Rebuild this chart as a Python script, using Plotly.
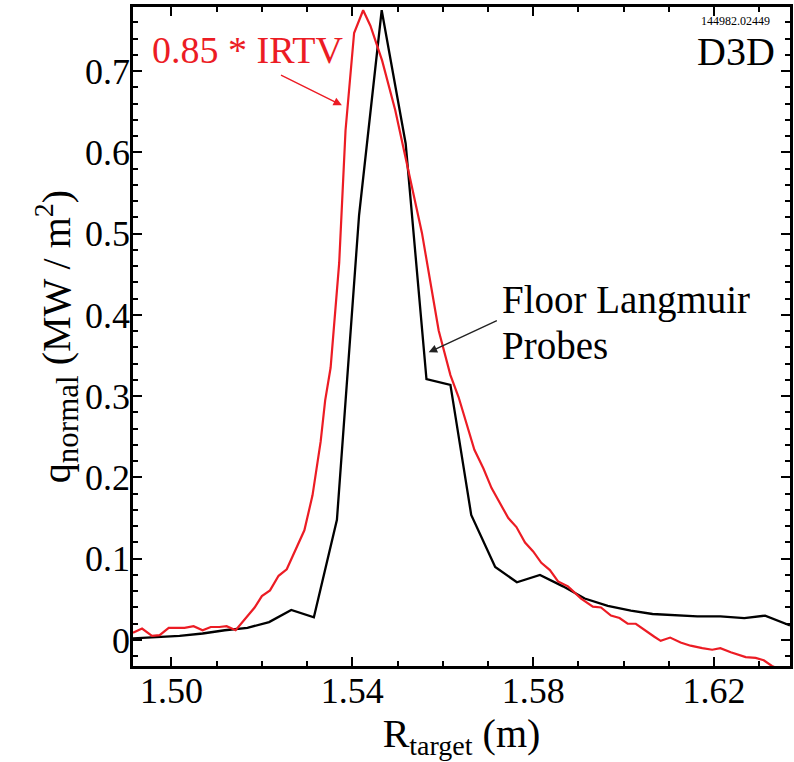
import plotly.graph_objects as go

# Floor Langmuir probes (black)
lp_r = [1.4915, 1.5018, 1.5069, 1.5118, 1.5168, 1.5216, 1.5265, 1.5315, 1.5366, 1.5415,
        1.5465, 1.5518, 1.5564, 1.5617, 1.5663, 1.5716, 1.5764, 1.5815, 1.5866, 1.5914,
        1.5965, 1.6016, 1.6064, 1.6115, 1.6163, 1.6214, 1.6267, 1.6313, 1.6368]
lp_q = [0.002, 0.005, 0.008, 0.012, 0.015, 0.022, 0.037, 0.028, 0.148, 0.523,
        0.775, 0.611, 0.321, 0.314, 0.154, 0.090, 0.071, 0.080, 0.066, 0.051,
        0.042, 0.036, 0.032, 0.030, 0.029, 0.029, 0.027, 0.030, 0.018]

# 0.85 * IRTV (red)
ir_r = [1.4915, 1.4935, 1.4957, 1.4974, 1.4994, 1.5029, 1.5049, 1.5069, 1.5087, 1.5106,
        1.5122, 1.5142, 1.5184, 1.5200, 1.5218, 1.5237, 1.5255, 1.5275, 1.5294, 1.5312,
        1.5330, 1.5340, 1.5352, 1.5371, 1.5385, 1.5404, 1.5424, 1.5440, 1.5466, 1.5495,
        1.5521, 1.5554, 1.5591, 1.5617, 1.5635, 1.5670, 1.5690, 1.5708, 1.5745, 1.5763,
        1.5782, 1.5800, 1.5818, 1.5837, 1.5855, 1.5877, 1.5906, 1.5932, 1.5950, 1.5972,
        1.5991, 1.6009, 1.6027, 1.6049, 1.6068, 1.6082, 1.6103, 1.6126, 1.6148, 1.6174,
        1.6196, 1.6214, 1.6237, 1.6270, 1.6292, 1.6310, 1.6328, 1.6345, 1.6370]
ir_q = [0.009, 0.014, 0.005, 0.006, 0.015, 0.015, 0.017, 0.012, 0.016, 0.016,
        0.017, 0.012, 0.040, 0.054, 0.061, 0.079, 0.087, 0.111, 0.135, 0.178,
        0.244, 0.295, 0.335, 0.464, 0.627, 0.747, 0.775, 0.756, 0.713, 0.652,
        0.587, 0.501, 0.381, 0.326, 0.299, 0.234, 0.211, 0.187, 0.150, 0.139,
        0.120, 0.109, 0.095, 0.086, 0.072, 0.066, 0.051, 0.041, 0.040, 0.030,
        0.027, 0.020, 0.020, 0.011, 0.004, -0.001, 0.003, -0.003, -0.007, -0.010,
        -0.012, -0.010, -0.015, -0.021, -0.022, -0.025, -0.032, -0.036, -0.038]

x_range = [1.4915, 1.6368]
y_range = [-0.032, 0.779]

RED = "#ec1c24"
FONT = "Liberation Serif"

fig = go.Figure()
fig.add_trace(go.Scatter(x=lp_r, y=lp_q, mode="lines",
                         line=dict(color="black", width=2.3), hoverinfo="skip"))
fig.add_trace(go.Scatter(x=ir_r, y=ir_q, mode="lines",
                         line=dict(color=RED, width=2.2), hoverinfo="skip"))

axis_common = dict(showline=True, linewidth=2.5, linecolor="black", mirror="allticks",
                   ticks="inside", tickwidth=2, tickcolor="black", ticklen=9,
                   showgrid=False, zeroline=False,
                   tickfont=dict(family=FONT, size=36, color="black"))

fig.update_xaxes(range=x_range, tick0=1.50, dtick=0.04, tickformat=".2f",
                 ticklabelstandoff=-9,
                 minor=dict(ticks="inside", dtick=0.01, tick0=1.50, ticklen=5,
                            tickwidth=2, tickcolor="black"),
                 title=dict(text="R<sub>target</sub> (m)",
                            font=dict(family=FONT, size=40, color="black"), standoff=0),
                 **axis_common)
fig.update_yaxes(range=y_range, tick0=0, dtick=0.1,
                 ticklabelstandoff=-7,
                 minor=dict(ticks="inside", dtick=0.02, tick0=0, ticklen=5,
                            tickwidth=2, tickcolor="black"),
                 title=dict(text="q<sub><span style='font-size:31px'>normal</span></sub> (MW / m<sup>2</sup>)",
                            font=dict(family=FONT, size=40, color="black"), standoff=0),
                 **axis_common)

annotations = [
    # red label + arrow
    dict(x=1.4952, y=0.726, xref="x", yref="y", text="0.85 * IRTV", showarrow=False,
         xanchor="left", yanchor="middle", font=dict(family=FONT, size=38, color=RED)),
    dict(x=1.5377, y=0.658, ax=1.5239, ay=0.696, xref="x", yref="y", axref="x", ayref="y",
         text="", showarrow=True, arrowhead=2, arrowsize=1.2, arrowwidth=1.4, arrowcolor=RED),
    # black label + arrow
    dict(x=1.5727, y=0.418, xref="x", yref="y", text="Floor Langmuir", showarrow=False,
         xanchor="left", yanchor="middle", font=dict(family=FONT, size=39, color="black")),
    dict(x=1.5727, y=0.363, xref="x", yref="y", text="Probes", showarrow=False,
         xanchor="left", yanchor="middle", font=dict(family=FONT, size=39, color="black")),
    dict(x=1.5569, y=0.354, ax=1.5723, ay=0.394, xref="x", yref="y", axref="x", ayref="y",
         text="", showarrow=True, arrowhead=2, arrowsize=1.2, arrowwidth=1.4, arrowcolor="#222222"),
    # shot id and machine
    dict(x=0.972, y=0.978, xref="paper", yref="paper", text="144982.02449", showarrow=False,
         xanchor="right", yanchor="middle", font=dict(family=FONT, size=12, color="black")),
    dict(x=0.980, y=0.932, xref="paper", yref="paper", text="D3D", showarrow=False,
         xanchor="right", yanchor="middle", font=dict(family=FONT, size=40, color="black")),
]

fig.update_layout(width=794, height=762, margin=dict(l=133, r=1, t=7, b=96),
                  paper_bgcolor="white", plot_bgcolor="white", showlegend=False,
                  annotations=annotations)

fig.write_html("out.html")
